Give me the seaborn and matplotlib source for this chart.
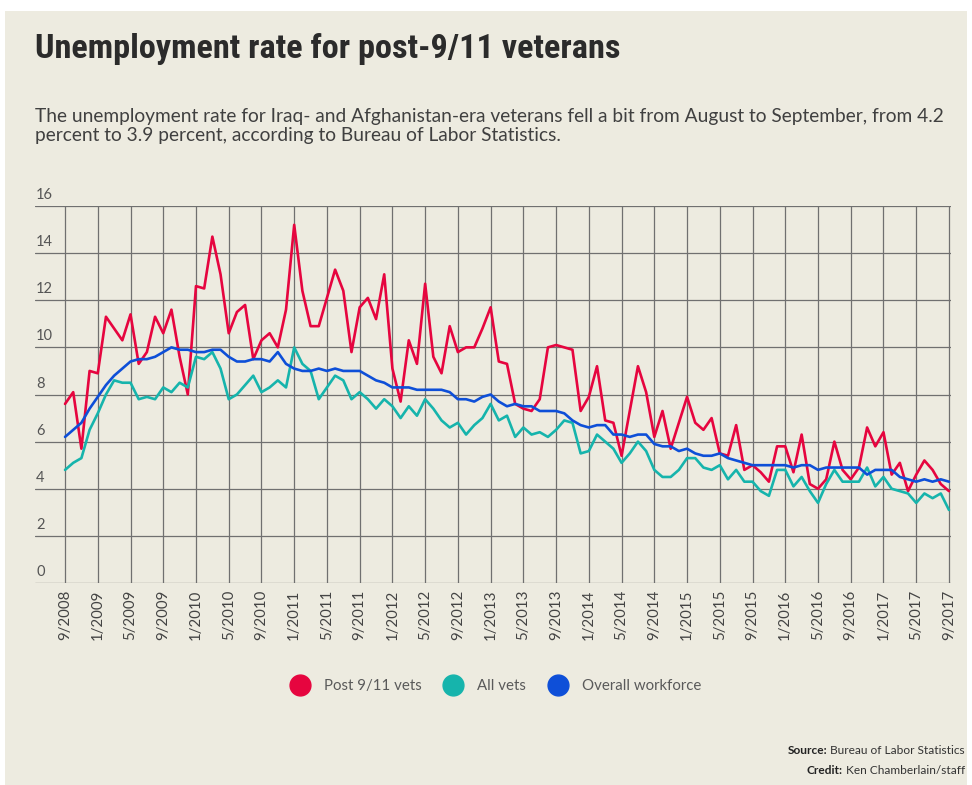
import numpy as np
import pandas as pd
import matplotlib
matplotlib.use("Agg")
import matplotlib.pyplot as plt
import matplotlib.transforms as mtransforms
from matplotlib import font_manager
from matplotlib.lines import Line2D
from matplotlib.patches import Rectangle
import seaborn as sns

# Monthly unemployment rates, 9/2008 .. 9/2017
post911 = [7.6, 8.1, 5.7, 9.0, 8.9, 11.3, 10.8, 10.3, 11.4, 9.3, 9.8, 11.3, 10.6, 11.6, 9.6, 8.0,
           12.6, 12.5, 14.7, 13.1, 10.6, 11.5, 11.8, 9.5, 10.3, 10.6, 10.0, 11.6, 15.2, 12.4, 10.9, 10.9,
           12.1, 13.3, 12.4, 9.8, 11.7, 12.1, 11.2, 13.1, 9.1, 7.7, 10.3, 9.3, 12.7, 9.6, 8.9, 10.9,
           9.8, 10.0, 10.0, 10.8, 11.7, 9.4, 9.3, 7.6, 7.4, 7.3, 7.8, 10.0, 10.1, 10.0, 9.9, 7.3,
           7.9, 9.2, 6.9, 6.8, 5.4, 7.3, 9.2, 8.1, 6.2, 7.3, 5.7, 6.8, 7.9, 6.8, 6.5, 7.0,
           5.5, 5.4, 6.7, 4.8, 5.0, 4.7, 4.3, 5.8, 5.8, 4.7, 6.3, 4.2, 4.0, 4.4, 6.0, 4.8,
           4.4, 4.9, 6.6, 5.8, 6.4, 4.6, 5.1, 3.9, 4.6, 5.2, 4.8, 4.2, 3.9]
all_vets = [4.8, 5.1, 5.3, 6.5, 7.2, 8.0, 8.6, 8.5, 8.5, 7.8, 7.9, 7.8, 8.3, 8.1, 8.5, 8.3,
            9.6, 9.5, 9.8, 9.1, 7.8, 8.0, 8.4, 8.8, 8.1, 8.3, 8.6, 8.3, 10.0, 9.3, 9.0, 7.8,
            8.3, 8.8, 8.6, 7.8, 8.1, 7.8, 7.4, 7.8, 7.5, 7.0, 7.5, 7.1, 7.8, 7.4, 6.9, 6.6,
            6.8, 6.3, 6.7, 7.0, 7.6, 6.9, 7.1, 6.2, 6.6, 6.3, 6.4, 6.2, 6.5, 6.9, 6.8, 5.5,
            5.6, 6.3, 6.0, 5.7, 5.1, 5.5, 6.0, 5.6, 4.8, 4.5, 4.5, 4.8, 5.3, 5.3, 4.9, 4.8,
            5.0, 4.4, 4.8, 4.3, 4.3, 3.9, 3.7, 4.8, 4.8, 4.1, 4.5, 3.9, 3.4, 4.2, 4.8, 4.3,
            4.3, 4.3, 4.9, 4.1, 4.5, 4.0, 3.9, 3.8, 3.4, 3.8, 3.6, 3.8, 3.1]
overall = [6.2, 6.5, 6.8, 7.4, 7.9, 8.4, 8.8, 9.1, 9.4, 9.5, 9.5, 9.6, 9.8, 10.0, 9.9, 9.9,
           9.8, 9.8, 9.9, 9.9, 9.6, 9.4, 9.4, 9.5, 9.5, 9.4, 9.8, 9.3, 9.1, 9.0, 9.0, 9.1,
           9.0, 9.1, 9.0, 9.0, 9.0, 8.8, 8.6, 8.5, 8.3, 8.3, 8.3, 8.2, 8.2, 8.2, 8.2, 8.1,
           7.8, 7.8, 7.7, 7.9, 8.0, 7.7, 7.5, 7.6, 7.5, 7.5, 7.3, 7.3, 7.3, 7.2, 6.9, 6.7,
           6.6, 6.7, 6.7, 6.3, 6.3, 6.2, 6.3, 6.3, 5.9, 5.8, 5.8, 5.6, 5.7, 5.5, 5.4, 5.4,
           5.5, 5.3, 5.2, 5.1, 5.0, 5.0, 5.0, 5.0, 5.0, 4.9, 5.0, 5.0, 4.8, 4.9, 4.9, 4.9,
           4.9, 4.9, 4.6, 4.8, 4.8, 4.8, 4.5, 4.4, 4.3, 4.4, 4.3, 4.4, 4.3]

series_names = ['Post 9/11 vets', 'All vets', 'Overall workforce']
series_colors = ['#E6053F', '#16B4AC', '#0E4FD8']
months = pd.date_range('2008-09-01', '2017-09-01', freq='MS')
tick_pos = list(range(0, len(months), 4))
tick_labels = [f"{months[i].month}/{months[i].year}" for i in tick_pos]

title = 'Unemployment rate for post-9/11 veterans'
subtitle1 = ('The unemployment rate for Iraq- and Afghanistan-era veterans fell a bit from '
             'August to September, from 4.2')
subtitle2 = 'percent to 3.9 percent, according to Bureau of Labor Statistics.'

df = pd.DataFrame({
    'month': np.tile(np.arange(len(months)), 3),
    'rate': post911 + all_vets + overall,
    'series': np.repeat(series_names, len(months)),
})

sns.set_theme(style='white')
installed = {f.name for f in font_manager.fontManager.ttflist}


def pick(*names):
    for n in names:
        if n in installed:
            return n
    return 'DejaVu Sans'


title_font = pick('Liberation Sans Narrow', 'DejaVu Sans Condensed', 'Roboto Condensed', 'Roboto')
body_font = pick('Lato', 'Noto Sans', 'Open Sans')
plt.rcParams['font.family'] = [body_font, 'DejaVu Sans']

W, H = 972, 785
bg = '#EDEBE0'
fig = plt.figure(figsize=(W / 100, H / 100), dpi=100)
fig.patch.set_facecolor('white')
fig.add_artist(Rectangle((5 / W, 0), 962 / W, 1 - 11 / H, transform=fig.transFigure,
                         facecolor=bg, edgecolor='none', zorder=-10))

ax = fig.add_axes([35 / W, 1 - 583 / H, 916 / W, 377 / H])
ax.set_facecolor('none')
sns.lineplot(data=df, x='month', y='rate', hue='series', hue_order=series_names,
             palette=series_colors, linewidth=1.9, legend=False, ax=ax)

ax.set_xlim(-3.67, 108.25)
ax.set_ylim(0, 16)
ax.set_xlabel('')
ax.set_ylabel('')
for s in ax.spines.values():
    s.set_visible(False)
ax.grid(True, color='#707070', linewidth=0.9)
ax.set_axisbelow(True)

ax.set_xticks(tick_pos)
ax.set_xticklabels(tick_labels, rotation=90, fontsize=10.8, color='#444444')
ax.tick_params(axis='x', length=0, pad=5)

ax.set_yticks(range(0, 17, 2))
ax.set_yticklabels([str(v) for v in range(0, 17, 2)], fontsize=10.5, color='#555555')
ax.tick_params(axis='y', length=0, pad=0)
shift = mtransforms.ScaledTranslation(1 / 100, 4 / 100, fig.dpi_scale_trans)
for lab in ax.get_yticklabels():
    lab.set_ha('left')
    lab.set_va('bottom')
    lab.set_transform(lab.get_transform() + shift)

renderer = fig.canvas.get_renderer()


def fit(txt, target_px):
    w = txt.get_window_extent(renderer).width
    txt.set_fontsize(txt.get_fontsize() * target_px / w)


t = fig.text(35 / W, 1 - 58 / H, title, fontsize=26, fontweight='bold',
             family=[title_font, 'DejaVu Sans'], color='#2b2b2b', va='baseline')
fit(t, 587)

s1 = fig.text(35 / W, 1 - 122 / H, subtitle1, fontsize=12, color='#404040', va='baseline')
fit(s1, 907)
s2 = fig.text(35 / W, 1 - 141 / H, subtitle2, fontsize=s1.get_fontsize(), color='#404040',
              va='baseline')

handles = [Line2D([], [], marker='o', ls='none', markersize=15, markerfacecolor=c,
                  markeredgecolor=c) for c in series_colors]
fig.legend(handles, series_names, loc='center', bbox_to_anchor=(493 / W, 1 - 686 / H),
           ncol=3, frameon=False, fontsize=10.8, labelcolor='#5a5a5a',
           handletextpad=0.6, columnspacing=1.1)

# source / credit, bold lead-in drawn to the left of the regular part
for y, lead, rest in [(750, 'Source:', ' Bureau of Labor Statistics'),
                      (771, 'Credit:', ' Ken Chamberlain/staff')]:
    r = fig.text(965 / W, 1 - y / H, rest, fontsize=8.6, color='#333333', ha='right', va='center')
    x0 = r.get_window_extent(renderer).x0
    fig.text(x0 / W, 1 - y / H, lead, fontsize=8.6, fontweight='bold', color='#222222',
             ha='right', va='center')

fig.savefig('out.png', dpi=100, facecolor=fig.get_facecolor())
